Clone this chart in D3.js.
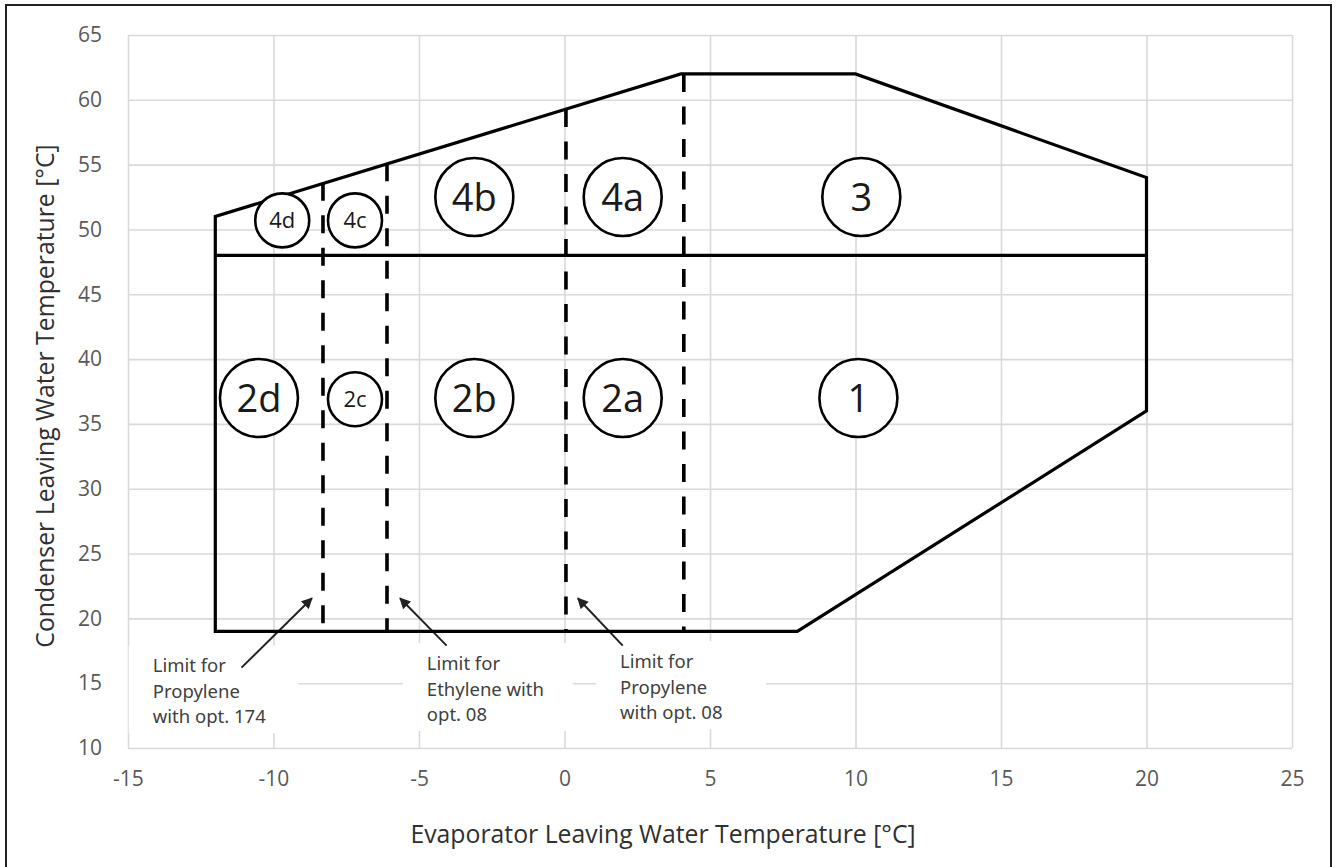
<!DOCTYPE html>
<html>
<head>
<meta charset="utf-8">
<script src="https://cdn.jsdelivr.net/npm/d3@7"></script>
<style>
  body { margin: 0; background: #fff; }
  svg { display: block; font-family: "Open Sans", "Noto Sans", sans-serif; }
</style>
</head>
<body>
<div id="chart"></div>
<script>
// axis ticks
const xTicks = [-15, -10, -5, 0, 5, 10, 15, 20, 25];
const yTicks = [10, 15, 20, 25, 30, 35, 40, 45, 50, 55, 60, 65];

// operating envelope outline (evap LWT, cond LWT)
const envelope = [[-12, 19], [8, 19], [20, 36], [20, 54], [10, 62], [4, 62], [-12, 51], [-12, 19]];
const divider = [[-12, 48], [20, 48]];

// glycol limit lines (dashed)
const limitX = [-8.3, -6.1, 0.05, 4.1];
const limitTop = [53.6, 55.1, 59.3, 62];
const limitBottom = [19, 19, 19, 19];

// zone markers
const zoneLabels = ['4d', '4c', '4b', '4a', '3', '2d', '2c', '2b', '2a', '1'];
const zoneX = [-9.7, -7.2, -3.1, 2.0, 10.2, -10.5, -7.2, -3.1, 2.0, 10.1];
const zoneY = [50.7, 50.7, 52.5, 52.5, 52.5, 37.0, 36.9, 37.0, 37.0, 37.0];
const zoneSmall = [true, true, false, false, false, false, true, false, false, false];

// annotations
const noteLines = [
  ['Limit for', 'Propylene', 'with opt. 174'],
  ['Limit for', 'Ethylene with', 'opt. 08'],
  ['Limit for', 'Propylene', 'with opt. 08']
];
const noteX = [-14.15, -4.73, 1.91];
const noteY = [16.23, 16.39, 16.54];
const arrowTail = [[-11.1, 16.2], [-4.05, 17.9], [2.0, 17.9]];
const arrowTip = [[-8.68, 21.55], [-5.65, 21.55], [0.46, 21.55]];

const width = 1338;
const height = 867;

const svg = d3.select('#chart').append('svg')
  .attr('width', width)
  .attr('height', height);

svg.append('defs').append('marker')
  .attr('id', 'head')
  .attr('viewBox', '0 0 10 10')
  .attr('refX', 9)
  .attr('refY', 5)
  .attr('markerWidth', 6.5)
  .attr('markerHeight', 5.5)
  .attr('markerUnits', 'strokeWidth')
  .attr('orient', 'auto')
  .append('path')
  .attr('d', 'M0,0 L10,5 L0,10 Z')
  .attr('fill', '#222');

// outer frame
svg.append('rect')
  .attr('x', 6).attr('y', 5)
  .attr('width', 1325).attr('height', 880)
  .attr('fill', 'none')
  .attr('stroke', '#222')
  .attr('stroke-width', 2);

const x = d3.scaleLinear().domain([-15, 25]).range([128, 1292]);
const y = d3.scaleLinear().domain([10, 65]).range([748, 35]);

// grid + tick labels
const gx = svg.append('g')
  .attr('transform', `translate(0, ${y(10)})`)
  .call(d3.axisBottom(x).tickValues(xTicks).tickFormat(d => String(d))
    .tickSize(-(y(10) - y(65))).tickPadding(24));
const gy = svg.append('g')
  .attr('transform', `translate(${x(-15)}, 0)`)
  .call(d3.axisLeft(y).tickValues(yTicks).tickFormat(d => String(d))
    .tickSize(-(x(25) - x(-15))).tickPadding(26));

[gx, gy].forEach(g => {
  g.select('.domain').remove();
  g.selectAll('.tick line').attr('stroke', '#d9d9d9').attr('stroke-width', 1.6);
  g.selectAll('.tick text')
    .attr('fill', '#595959')
    .style('font-size', '21px')
    .style('font-family', '"Open Sans", sans-serif');
});
gx.selectAll('.tick text').attr('dy', '0.68em');

// axis titles
svg.append('text')
  .attr('x', 663).attr('y', 836)
  .attr('text-anchor', 'middle')
  .attr('dominant-baseline', 'middle')
  .attr('fill', '#303030')
  .style('font-size', '24.8px')
  .text('Evaporator Leaving Water Temperature [°C]');

svg.append('text')
  .attr('transform', 'translate(47, 396) rotate(-90)')
  .attr('text-anchor', 'middle')
  .attr('dominant-baseline', 'middle')
  .attr('fill', '#303030')
  .style('font-size', '24.8px')
  .text('Condenser Leaving Water Temperature [°C]');

// annotation boxes (white, hide gridlines)
const notes = svg.append('g');
noteLines.forEach((lines, i) => {
  const tx = x(noteX[i]);
  const ty = y(noteY[i]);
  notes.append('rect')
    .attr('x', tx - 24).attr('y', ty - 22)
    .attr('width', 170).attr('height', 88)
    .attr('fill', '#fff');
  const t = notes.append('text')
    .attr('x', tx).attr('y', ty)
    .attr('fill', '#404040')
    .style('font-size', '18.5px')
    .style('font-family', '"Noto Sans", "Open Sans", sans-serif');
  lines.forEach((s, j) => {
    t.append('tspan')
      .attr('x', tx)
      .attr('y', ty + j * 25.5)
      .attr('dominant-baseline', 'middle')
      .text(s);
  });
  notes.append('line')
    .attr('x1', x(arrowTail[i][0])).attr('y1', y(arrowTail[i][1]))
    .attr('x2', x(arrowTip[i][0])).attr('y2', y(arrowTip[i][1]))
    .attr('stroke', '#222')
    .attr('stroke-width', 2)
    .attr('marker-end', 'url(#head)');
});

// envelope
const line = d3.line().x(d => x(d[0])).y(d => y(d[1]));
svg.append('path')
  .attr('d', line(envelope) + 'Z')
  .attr('fill', 'none')
  .attr('stroke', '#000')
  .attr('stroke-width', 3.2)
  .attr('stroke-linejoin', 'miter');

svg.append('path')
  .attr('d', line(divider))
  .attr('fill', 'none')
  .attr('stroke', '#000')
  .attr('stroke-width', 3.2);

svg.append('g').selectAll('line')
  .data(limitX)
  .join('line')
  .attr('x1', d => x(d)).attr('x2', d => x(d))
  .attr('y1', (d, i) => y(limitTop[i]))
  .attr('y2', (d, i) => y(limitBottom[i]))
  .attr('stroke', '#000')
  .attr('stroke-width', 3.6)
  .attr('stroke-dasharray', '18 14.5');

// zone circles
const zones = svg.append('g').selectAll('g')
  .data(zoneLabels)
  .join('g')
  .attr('transform', (d, i) => `translate(${x(zoneX[i])}, ${y(zoneY[i])})`);

zones.append('circle')
  .attr('r', (d, i) => zoneSmall[i] ? 27 : 39)
  .attr('fill', '#fff')
  .attr('stroke', '#000')
  .attr('stroke-width', 2.6);

zones.append('text')
  .attr('text-anchor', 'middle')
  .attr('dy', '0.36em')
  .attr('fill', '#1a1a1a')
  .style('font-size', (d, i) => zoneSmall[i] ? '22px' : '38px')
  .text(d => d);
</script>
</body>
</html>
